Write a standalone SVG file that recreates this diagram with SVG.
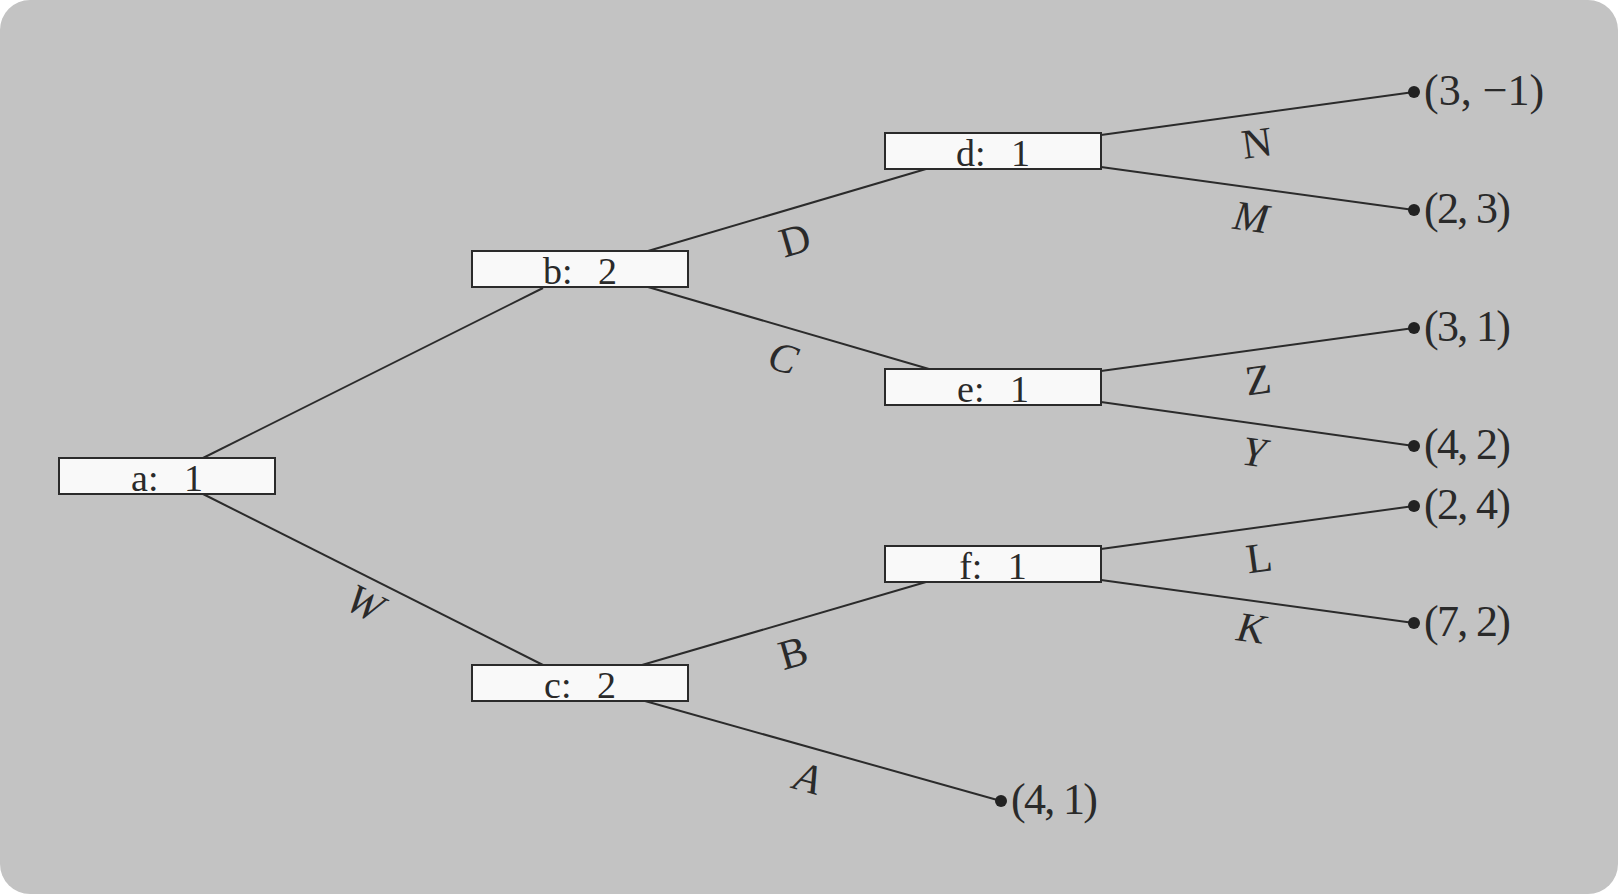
<svg xmlns="http://www.w3.org/2000/svg" width="1618" height="894" viewBox="0 0 1618 894">
<style>
.bg{fill:#c3c3c3}
.box{fill:#f9f9f9;stroke:#2b2b2b;stroke-width:2}
.edge{stroke:#2b2b2b;stroke-width:2;fill:none}
.dot{fill:#222}
text{font-family:"Liberation Serif","DejaVu Serif",serif;fill:#2a2a2a}
.nt{font-size:38px;text-anchor:middle;word-spacing:16px}
.lb{font-size:42px;text-anchor:middle}
.it{font-style:italic}
.po{font-size:44px}
</style>
<rect x="0" y="0" width="1618" height="894" fill="#ffffff"/>
<rect class="bg" x="0" y="0" width="1618" height="894" rx="30" ry="30"/>
<g id="connectors">
<line class="edge" x1="203" y1="458" x2="543" y2="288"/>
<line class="edge" x1="203" y1="494" x2="543" y2="665"/>
<line class="edge" x1="648" y1="251" x2="926" y2="169"/>
<line class="edge" x1="648" y1="287" x2="929" y2="369"/>
<line class="edge" x1="642" y1="665" x2="926" y2="582"/>
<line class="edge" x1="645" y1="701" x2="1001" y2="801"/>
<line class="edge" x1="1101" y1="135" x2="1414" y2="92"/>
<line class="edge" x1="1101" y1="167" x2="1414" y2="210"/>
<line class="edge" x1="1101" y1="371" x2="1414" y2="328"/>
<line class="edge" x1="1101" y1="402" x2="1414" y2="446"/>
<line class="edge" x1="1101" y1="549" x2="1414" y2="506"/>
<line class="edge" x1="1101" y1="580" x2="1414" y2="623"/>
<text class="lb it" x="365" y="617" transform="rotate(26.6 365 603)">W</text>
<text class="lb" x="795" y="254" transform="rotate(-16.2 795 240)">D</text>
<text class="lb it" x="783" y="372" transform="rotate(16 783 358)">C</text>
<text class="lb" x="793" y="667" transform="rotate(-16.1 793 653)">B</text>
<text class="lb it" x="808" y="792" transform="rotate(15.7 808 778)">A</text>
<text class="lb" x="1257" y="157" transform="rotate(-7.8 1257 143)">N</text>
<text class="lb it" x="1251" y="231" transform="rotate(8 1251 217)">M</text>
<text class="lb" x="1258" y="394" transform="rotate(-7.8 1258 380)">Z</text>
<text class="lb it" x="1254" y="466" transform="rotate(8 1254 452)">Y</text>
<text class="lb" x="1259" y="572" transform="rotate(-7.8 1259 558)">L</text>
<text class="lb it" x="1251" y="642" transform="rotate(8 1251 628)">K</text>
</g>
<g id="node-a"><rect class="box" x="59" y="458" width="216" height="36"/><text class="nt" x="167" y="491">a: 1</text></g>
<g id="node-b"><rect class="box" x="472" y="251" width="216" height="36"/><text class="nt" x="580" y="284">b: 2</text></g>
<g id="node-c"><rect class="box" x="472" y="665" width="216" height="36"/><text class="nt" x="580" y="698">c: 2</text></g>
<g id="node-d"><rect class="box" x="885" y="133" width="216" height="36"/><text class="nt" x="993" y="166">d: 1</text></g>
<g id="node-e"><rect class="box" x="885" y="369" width="216" height="36"/><text class="nt" x="993" y="402">e: 1</text></g>
<g id="node-f"><rect class="box" x="885" y="546" width="216" height="36"/><text class="nt" x="993" y="579">f: 1</text></g>
<g id="leaf-1"><circle class="dot" cx="1414" cy="92" r="6"/><text class="po" x="1424" y="105">(3, −1)</text></g>
<g id="leaf-2"><circle class="dot" cx="1414" cy="210" r="6"/><text class="po" x="1424" y="223" textLength="87" lengthAdjust="spacing">(2, 3)</text></g>
<g id="leaf-3"><circle class="dot" cx="1414" cy="328" r="6"/><text class="po" x="1424" y="341" textLength="87" lengthAdjust="spacing">(3, 1)</text></g>
<g id="leaf-4"><circle class="dot" cx="1414" cy="446" r="6"/><text class="po" x="1424" y="459" textLength="87" lengthAdjust="spacing">(4, 2)</text></g>
<g id="leaf-5"><circle class="dot" cx="1414" cy="506" r="6"/><text class="po" x="1424" y="519" textLength="87" lengthAdjust="spacing">(2, 4)</text></g>
<g id="leaf-6"><circle class="dot" cx="1414" cy="623" r="6"/><text class="po" x="1424" y="636" textLength="87" lengthAdjust="spacing">(7, 2)</text></g>
<g id="leaf-7"><circle class="dot" cx="1001" cy="801" r="6"/><text class="po" x="1011" y="814" textLength="87" lengthAdjust="spacing">(4, 1)</text></g>
</svg>
